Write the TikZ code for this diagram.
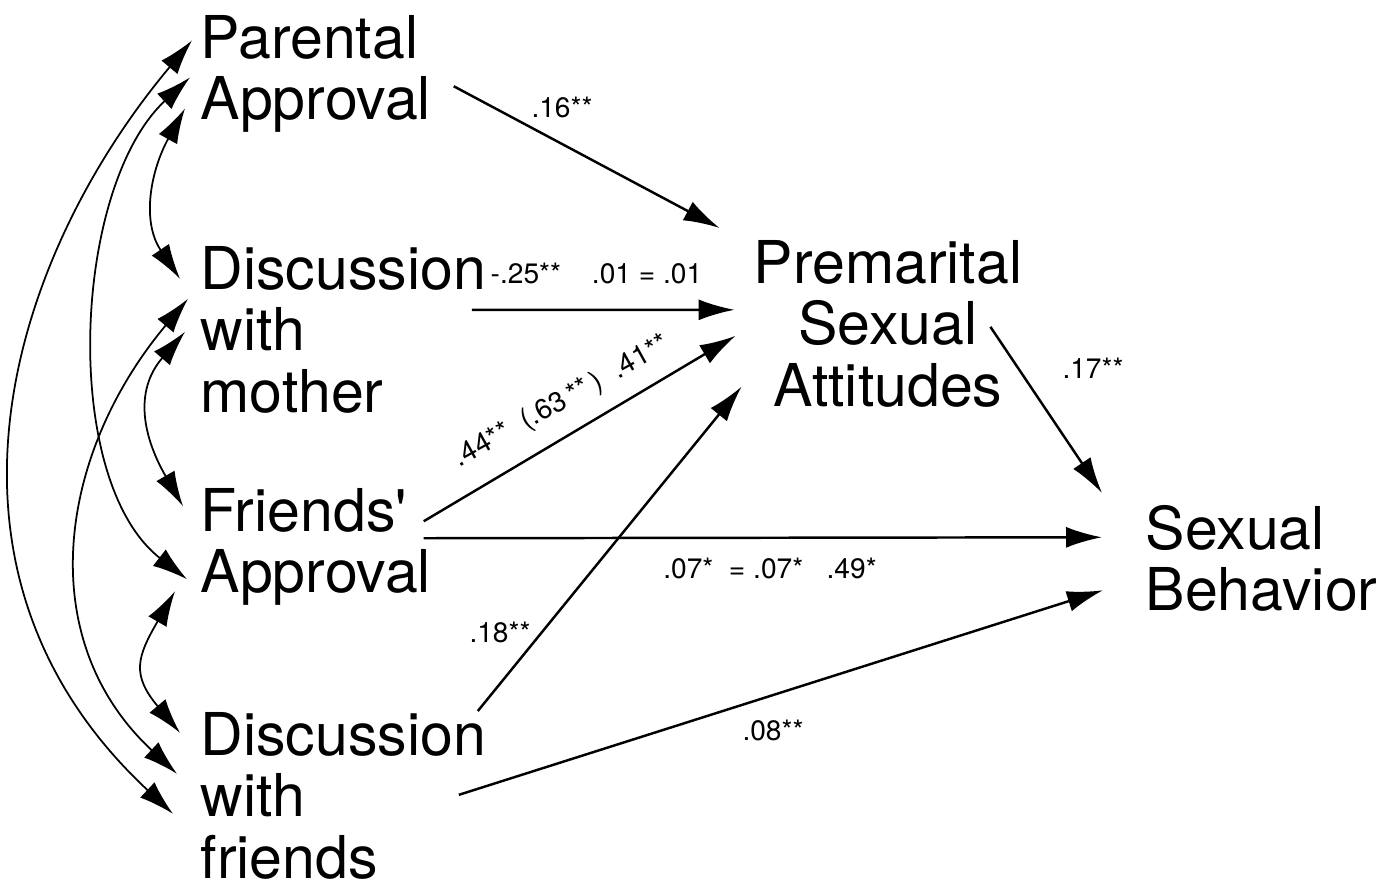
\documentclass[tikz,border=0pt]{standalone}
\usepackage{fontspec}
\setmainfont{TeX Gyre Heros}
\usetikzlibrary{arrows.meta}

\begin{document}
\begin{tikzpicture}[
    var/.style={inner sep=0pt, align=left, font=\fontsize{16.8}{17.4}\selectfont},
    coef/.style={inner sep=0pt, font=\fontsize{8}{9}\selectfont},
    effect/.style={line width=0.7pt, -{Latex[length=3.6mm, width=2.1mm]}},
    cov/.style={line width=0.5pt, {Latex[length=3.5mm, width=2.1mm]}-{Latex[length=3.5mm, width=2.1mm]}}
]
    \useasboundingbox (0,0) rectangle (13.91,-8.83);

    \node[var, anchor=north west] (pa) at (2.00,-0.15) {Parental\\Approval};
    \node[var, anchor=north west] (dm) at (2.00,-2.46) {Discussion\\with\\mother};
    \node[var, anchor=north west] (fa) at (2.00,-4.88) {Friends\textquotesingle\\Approval};
    \node[var, anchor=north west] (df) at (2.00,-7.12) {Discussion\\with\\friends};
    \node[var, anchor=north, align=center] (psa) at (8.88,-2.40) {Premarital\\Sexual\\Attitudes};
    \node[var, anchor=north west] (sb) at (11.45,-5.05) {Sexual\\Behavior};

    % direct paths
    \draw[effect] ([shift={(0.22,-0.12)}]pa.east) -- ([shift={(-0.335,0.12)}]psa.north west);
    \draw[effect] ([shift={(-0.15,0.20)}]dm.east) -- ([shift={(-0.185,0.14)}]psa.west);
    \draw[effect] ([shift={(-0.08,0.26)}]fa.east) -- ([shift={(-0.175,-0.12)}]psa.west);
    \draw[effect] ([shift={(-0.08,0.09)}]fa.east) -- ([shift={(-0.43,0.215)}]sb.west);
    \draw[effect] ([shift={(-0.09,0.01)}]df.north east) -- ([shift={(-0.115,0.21)}]psa.south west);
    \draw[effect] ([shift={(-0.28,0.01)}]df.east) -- ([shift={(-0.42,-0.315)}]sb.west);
    \draw[effect] ([shift={(-0.325,-0.03)}]psa.east) -- ([shift={(-0.43,0.12)}]sb.north west);

    % correlations
    \draw[cov] ([shift={(-0.15,-0.342)}]pa.west) .. controls +(241:0.7) and +(124:0.7) .. ([shift={(-0.20,0.51)}]dm.west);
    \draw[cov] ([shift={(-0.10,-0.032)}]pa.west) .. controls +(223:1.61) and +(142:1.61) .. ([shift={(-0.13,-0.32)}]fa.west);
    \draw[cov] ([shift={(-0.08,0.338)}]pa.west) .. controls +(230:2.8) and +(137:3.6) .. ([shift={(-0.27,-0.18)}]df.west);
    \draw[cov] ([shift={(-0.15,-0.02)}]dm.west) .. controls +(229:0.79) and +(120:0.79) .. ([shift={(-0.17,0.41)}]fa.west);
    \draw[cov] ([shift={(-0.12,0.31)}]dm.west) .. controls +(230:2.0) and +(137:2.0) .. ([shift={(-0.23,0.22)}]df.west);
    \draw[cov] ([shift={(-0.25,-0.44)}]fa.west) .. controls +(240:0.76) and +(130:0.76) .. ([shift={(-0.20,0.63)}]df.west);

    \node[coef] (l16) at (5.62,-1.07) {.16**};
    \node[coef, anchor=west] (l25) at (4.90,-2.73) {-.25**\hspace{1.1em}.01 = .01};
    \node[coef, rotate=29] (l44) at (5.62,-4.02) {.44**\ \ (.63\,**\,)\ \ .41**};
    \node[coef] (l07) at (7.70,-5.68) {.07*\ \ =\ .07*\ \ \ .49*};
    \node[coef] (l18) at (5.00,-6.32) {.18**};
    \node[coef] (l08) at (7.73,-7.30) {.08**};
    \node[coef] (l17) at (10.93,-3.68) {.17**};
\end{tikzpicture}
\end{document}
